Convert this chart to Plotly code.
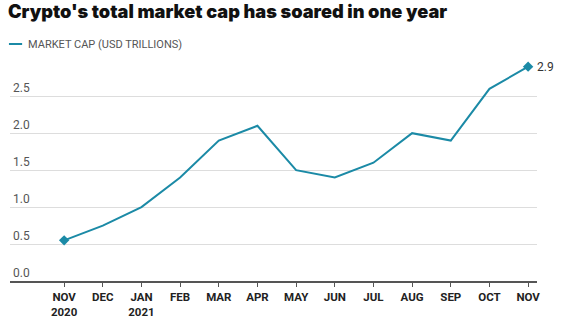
import plotly.graph_objects as go

months = ["NOV<br>2020", "DEC", "JAN<br>2021", "FEB", "MAR", "APR", "MAY", "JUN",
          "JUL", "AUG", "SEP", "OCT", "NOV"]
market_cap = [0.55, 0.75, 1.0, 1.4, 1.9, 2.1, 1.5, 1.4, 1.6, 2.0, 1.9, 2.6, 2.9]
y_ticks = [0.0, 0.5, 1.0, 1.5, 2.0, 2.5]
y_tick_labels = ["0.0", "0.5", "1.0", "1.5", "2.0", "2.5"]
series_name = "MARKET CAP (USD TRILLIONS)"
title = "Crypto's total market cap has soared in one year"

LINE = "#1b8aa6"
FONT = "Roboto"
x = list(range(len(months)))

fig = go.Figure()
fig.add_trace(go.Scatter(
    x=x, y=market_cap, mode="lines", name=series_name,
    line=dict(color=LINE, width=2), showlegend=False, hoverinfo="skip"))
ends = [0, len(x) - 1]
fig.add_trace(go.Scatter(
    x=[x[i] for i in ends], y=[market_cap[i] for i in ends], mode="markers",
    marker=dict(symbol="diamond", size=8, color=LINE), showlegend=False,
    hoverinfo="skip"))
fig.add_annotation(x=x[-1], y=market_cap[-1], text=f"{market_cap[-1]:.1f}",
                   showarrow=False, xanchor="left", xshift=7, yanchor="middle",
                   font=dict(family=FONT, size=12, color="#333"))

fig.update_layout(
    width=563, height=324,
    margin=dict(l=10, r=26, t=60, b=43),
    paper_bgcolor="white", plot_bgcolor="white",
    title=dict(text=title, x=0.014, xanchor="left", y=0.985, yanchor="top",
               font=dict(family="Inter", size=18.2, color="#111", weight=900)),
    xaxis=dict(range=[-1.40, 12.23], tickvals=x, ticktext=months,
               showgrid=False, zeroline=False, showline=True, automargin=False,
               linecolor="#555", linewidth=1.5, ticks="outside", ticklen=4,
               tickcolor="#555",
               tickfont=dict(family=FONT, size=11.5, color="#222", weight=700)),
    yaxis=dict(range=[0, 2.99], tickvals=y_ticks, ticktext=y_tick_labels,
               showgrid=True, gridcolor="#dddddd", gridwidth=1, zeroline=False,
               ticklabelposition="inside top", showline=False, automargin=False,
               tickfont=dict(family=FONT, size=12, color="#555")),
)

# Legend-like key
ky = 1.0 + (60 - 44) / 221
fig.add_shape(type="line", xref="paper", yref="paper", x0=-0.002, x1=0.023,
              y0=ky, y1=ky, line=dict(color=LINE, width=2))
fig.add_annotation(xref="paper", yref="paper", x=0.03, y=ky,
                   text=series_name, showarrow=False, xanchor="left",
                   yanchor="middle",
                   font=dict(family=FONT, size=11, color="#555"))

fig.write_html("out.html")
